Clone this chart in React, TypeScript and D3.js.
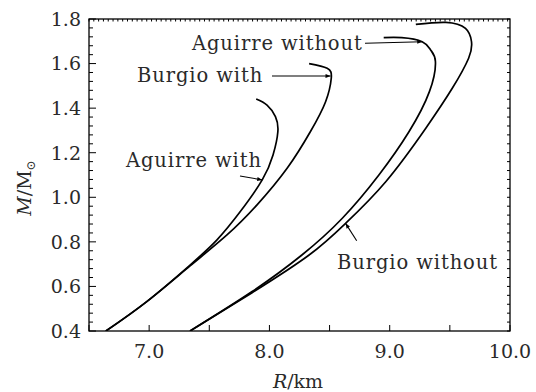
import React from "react";
import * as d3 from "d3";

const xTicks = [7.0, 8.0, 9.0, 10.0];
const xTickLabels = ["7.0", "8.0", "9.0", "10.0"];
const yTicks = [0.4, 0.6, 0.8, 1.0, 1.2, 1.4, 1.6, 1.8];
const yTickLabels = ["0.4", "0.6", "0.8", "1.0", "1.2", "1.4", "1.6", "1.8"];

const aguirreWithR = [6.64, 6.98, 7.34, 7.564, 7.758, 7.94, 8.03, 8.07, 8.05, 7.98, 7.89];
const aguirreWithM = [0.40, 0.532, 0.696, 0.809, 0.936, 1.078, 1.19, 1.294, 1.362, 1.414, 1.441];

const burgioWithR = [6.64, 6.98, 7.34, 7.647, 7.897, 8.147, 8.34, 8.467, 8.514, 8.48, 8.33];
const burgioWithM = [0.40, 0.532, 0.692, 0.831, 0.966, 1.13, 1.294, 1.429, 1.534, 1.579, 1.60];

const aguirreWithoutR = [7.34, 7.856, 8.27, 8.606, 8.91, 9.16, 9.33, 9.38, 9.34, 9.27, 9.10, 8.95];
const aguirreWithoutM = [0.40, 0.577, 0.741, 0.906, 1.10, 1.294, 1.474, 1.609, 1.661, 1.698, 1.716, 1.716];

const burgioWithoutR = [7.34, 7.856, 8.33, 8.633, 8.967, 9.30, 9.52, 9.656, 9.68, 9.63, 9.467, 9.217];
const burgioWithoutM = [0.40, 0.572, 0.741, 0.883, 1.07, 1.31, 1.489, 1.624, 1.698, 1.758, 1.785, 1.776];

const seriesNames = ["Aguirre with", "Burgio with", "Aguirre without", "Burgio without"];

const W = 536, H = 392;
const L = 89, R = 510, T = 19, B = 331;
const font = "'DejaVu Serif', serif";
const textColor = "#2a2a2a";

export default function App() {
  const x = d3.scaleLinear().domain([6.5, 10]).range([L, R]);
  const y = d3.scaleLinear().domain([0.4, 1.8]).range([B, T]);
  const line = d3
    .line<[number, number]>()
    .x((d) => x(d[0]))
    .y((d) => y(d[1]))
    .curve(d3.curveNatural);

  const series = [
    [aguirreWithR, aguirreWithM],
    [burgioWithR, burgioWithM],
    [aguirreWithoutR, aguirreWithoutM],
    [burgioWithoutR, burgioWithoutM],
  ].map(([rs, ms]) => rs.map((r, i) => [r, ms[i]] as [number, number]));

  const bottomTicks = d3.range(6.5, 10.001, 0.5);
  const topTicks = d3.range(6.5, 10.001, 0.04);
  const sideTicks = d3.range(0.4, 1.8001, 0.04);

  const annots = [
    { text: seriesNames[0], tx: 126, ty: 167, x1: 240, y1: 176, x2: x(7.94), y2: y(1.078) },
    { text: seriesNames[1], tx: 137, ty: 82, x1: 272, y1: 76, x2: x(8.508), y2: y(1.544) },
    { text: seriesNames[2], tx: 192, ty: 50, x1: 365, y1: 43.3, x2: x(9.27), y2: y(1.698) },
    { text: seriesNames[3], tx: 337, ty: 268.5, x1: 356.7, y1: 240.7, x2: x(8.633), y2: y(0.883) },
  ];

  return (
    <svg width={W} height={H} style={{ position: "absolute", left: 0, top: 0, background: "#fff" }}>
      <defs>
        <marker id="ah" viewBox="0 0 10 10" refX="10" refY="5" markerWidth="7" markerHeight="5" orient="auto" markerUnits="userSpaceOnUse">
          <path d="M0,1 L10,5 L0,9 z" fill="#000" />
        </marker>
        <clipPath id="clip">
          <rect x={L} y={T} width={R - L} height={B - T} />
        </clipPath>
      </defs>
      <g stroke="#000" strokeWidth={1}>
        {bottomTicks.map((t, i) => (
          <line key={"b" + i} x1={x(t)} x2={x(t)} y1={B} y2={B - 6} />
        ))}
        {topTicks.map((t, i) => (
          <line key={"t" + i} x1={x(t)} x2={x(t)} y1={T} y2={T + 2.5} />
        ))}
        {sideTicks.map((t, i) => {
          const major = Math.abs((t - 0.4) / 0.2 - Math.round((t - 0.4) / 0.2)) < 1e-6;
          return (
            <g key={"s" + i}>
              <line x1={L} x2={L + (major ? 7 : 4)} y1={y(t)} y2={y(t)} />
              <line x1={R} x2={R - 3} y1={y(t)} y2={y(t)} />
            </g>
          );
        })}
      </g>
      <rect x={L} y={T} width={R - L} height={B - T} fill="none" stroke="#000" strokeWidth={1.3} />
      <g clipPath="url(#clip)">
        {series.map((s, i) => (
          <path key={i} d={line(s) || ""} fill="none" stroke="#000" strokeWidth={1.7} />
        ))}
      </g>
      <g fontFamily={font} fontSize={19} fill={textColor}>
        {yTicks.map((t, i) => (
          <text key={"yl" + i} x={81} y={y(t)} dy="0.36em" textAnchor="end">
            {yTickLabels[i]}
          </text>
        ))}
        {xTicks.map((t, i) => (
          <text key={"xl" + i} x={x(t)} y={358} textAnchor="middle">
            {xTickLabels[i]}
          </text>
        ))}
      </g>
      <text x={298} y={388} textAnchor="middle" fontFamily={font} fontSize={19} fill={textColor}>
        <tspan fontStyle="italic">R</tspan>
        <tspan>/km</tspan>
      </text>
      <text transform="translate(31,188) rotate(-90)" textAnchor="middle" fontFamily={font} fontSize={19} fill={textColor}>
        <tspan fontStyle="italic">M</tspan>
        <tspan>/M</tspan>
        <tspan fontSize={12} dy="4">⊙</tspan>
      </text>
      {annots.map((a, i) => (
        <g key={"a" + i}>
          <text x={a.tx} y={a.ty} fontFamily={font} fontSize={19.5} fill={textColor} letterSpacing={0.9}>
            {a.text}
          </text>
          <line x1={a.x1} y1={a.y1} x2={a.x2} y2={a.y2} stroke="#000" strokeWidth={1.1} markerEnd="url(#ah)" />
        </g>
      ))}
    </svg>
  );
}
